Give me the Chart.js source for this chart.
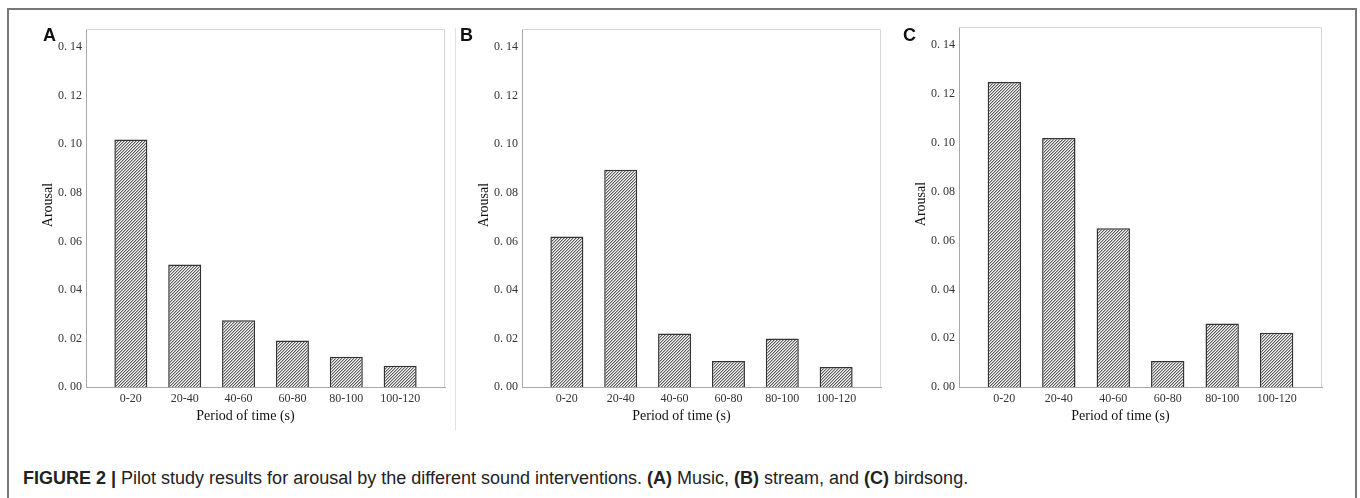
<!DOCTYPE html>
<html lang="en">
<head>
<meta charset="UTF-8">
<title>Figure 2 - Pilot study arousal</title>
<script src="https://cdn.jsdelivr.net/npm/chart.js"></script>
<style>
    body {
        margin: 0;
        width: 1360px;
        height: 498px;
        overflow: hidden;
        background: #fff;
        position: relative;
        font-family: "Liberation Sans", Arial, sans-serif;
    }
    .frame {
        position: absolute;
        left: 7px;
        top: 8px;
        width: 1346px;
        height: 600px;
        border: 2px solid #777;
    }
    .sep {
        position: absolute;
        left: 455px;
        top: 28px;
        width: 1px;
        height: 402px;
        background: #e0e0e0;
    }
    .panel {
        position: absolute;
        top: 0;
    }
    .letter {
        position: absolute;
        top: 25px;
        font: bold 18px/20px "Liberation Sans", Arial, sans-serif;
        color: #111;
    }
    .caption {
        position: absolute;
        left: 23px;
        top: 468px;
        font-size: 18px;
        line-height: 20px;
        color: #222;
        white-space: nowrap;
    }
</style>
</head>
<body>
<div class="frame"></div>
<div class="sep"></div>

<canvas id="chartA" class="panel" style="left:0px" width="455" height="440"></canvas>
<canvas id="chartB" class="panel" style="left:456px" width="430" height="440"></canvas>
<canvas id="chartC" class="panel" style="left:886px" width="474" height="440"></canvas>

<div class="letter" style="left:43px">A</div>
<div class="letter" style="left:460px">B</div>
<div class="letter" style="left:903px">C</div>

<div class="caption"><b>FIGURE 2 |</b> Pilot study results for arousal by the different sound interventions. <b>(A)</b> Music, <b>(B)</b> stream, and <b>(C)</b> birdsong.</div>

<script>
    // data
    const categories = ['0-20', '20-40', '40-60', '60-80', '80-100', '100-120'];
    const yTicks = [0, 0.02, 0.04, 0.06, 0.08, 0.10, 0.12, 0.14];
    const musicValues = [0.102, 0.0505, 0.0275, 0.0192, 0.0125, 0.0088];
    const streamValues = [0.062, 0.0895, 0.022, 0.0107, 0.020, 0.0082];
    const birdsongValues = [0.125, 0.102, 0.065, 0.0107, 0.026, 0.0222];
    const yMax = 0.1475;
    const xTitle = 'Period of time (s)';
    const yTitle = 'Arousal';

    // hatch fill like the SPSS bars
    function makeHatch() {
        const c = document.createElement('canvas');
        c.width = 3;
        c.height = 3;
        const g = c.getContext('2d');
        const img = g.createImageData(3, 3);
        for (let y = 0; y < 3; y++) {
            for (let x = 0; x < 3; x++) {
                const k = (x + y) % 3;
                const v = k === 0 ? 95 : (k === 1 ? 185 : 245);
                const i = (y * 3 + x) * 4;
                img.data[i] = v; img.data[i + 1] = v; img.data[i + 2] = v; img.data[i + 3] = 255;
            }
        }
        g.putImageData(img, 0, 0);
        return g.createPattern(c, 'repeat');
    }

    // frame + axis titles drawn around the plot area
    const frameAndTitles = {
        id: 'frameAndTitles',
        afterDraw(chart) {
            const { ctx, chartArea: a } = chart;
            ctx.save();
            ctx.strokeStyle = '#d6d6d6';
            ctx.lineWidth = 1;
            ctx.beginPath();
            ctx.moveTo(a.left, a.top + 0.5);
            ctx.lineTo(a.right - 0.5, a.top + 0.5);
            ctx.lineTo(a.right - 0.5, a.bottom);
            ctx.stroke();

            ctx.fillStyle = '#111';
            ctx.font = '14px "Liberation Serif", "Times New Roman", serif';
            ctx.textAlign = 'center';
            ctx.textBaseline = 'middle';
            ctx.fillText(xTitle, (a.left + a.right) / 2 - 20, a.bottom + 29);

            ctx.translate(a.left - 38, (a.top + a.bottom) / 2 - 3);
            ctx.rotate(-Math.PI / 2);
            ctx.fillText(yTitle, 0, 0);
            ctx.restore();
        }
    };

    function drawPanel(id, values, canvasLeft, canvasWidth, plotLeft, plotRight, plotTop) {
        const ctx = document.getElementById(id).getContext('2d');
        const axisW = plotLeft - canvasLeft;
        new Chart(ctx, {
            type: 'bar',
            data: {
                datasets: [{
                    data: values.map((v, i) => ({ x: i, y: v })),
                    backgroundColor: makeHatch(),
                    borderColor: '#333',
                    borderWidth: 1.5,
                    barPercentage: 1,
                    categoryPercentage: 0.613
                }]
            },
            options: {
                responsive: false,
                animation: false,
                devicePixelRatio: 1,
                layout: {
                    padding: {
                        left: 0,
                        top: plotTop,
                        right: canvasWidth - (plotRight - canvasLeft),
                        bottom: 8
                    }
                },
                plugins: {
                    legend: { display: false },
                    tooltip: { enabled: false }
                },
                scales: {
                    x: {
                        type: 'linear',
                        offset: false,
                        min: -0.833,
                        max: categories.length - 1 + 0.833,
                        grid: { display: false, drawTicks: false, offset: false },
                        border: { display: true, color: '#a8a8a8', width: 1 },
                        afterBuildTicks: s => { s.ticks = categories.map((_, i) => ({ value: i })); },
                        afterFit: s => { s.height = 45; },
                        ticks: {
                            callback: v => categories[v],
                            color: '#333',
                            font: { family: '"Liberation Serif", serif', size: 12 },
                            padding: 5,
                            maxRotation: 0,
                            autoSkip: false
                        }
                    },
                    y: {
                        min: 0,
                        max: yMax,
                        grid: { display: false, drawTicks: false },
                        border: { display: true, color: '#a8a8a8', width: 1 },
                        afterBuildTicks: s => { s.ticks = yTicks.map(v => ({ value: v })); },
                        afterFit: s => { s.width = axisW; },
                        ticks: {
                            callback: v => v.toFixed(2).replace('.', '. '),
                            color: '#333',
                            font: { family: '"Liberation Serif", serif', size: 12 },
                            padding: 4
                        }
                    }
                }
            },
            plugins: [frameAndTitles]
        });
    }

    drawPanel('chartA', musicValues, 0, 455, 86, 445, 29);
    drawPanel('chartB', streamValues, 456, 430, 522, 881, 29);
    drawPanel('chartC', birdsongValues, 886, 474, 959, 1322, 27);
</script>
</body>
</html>
